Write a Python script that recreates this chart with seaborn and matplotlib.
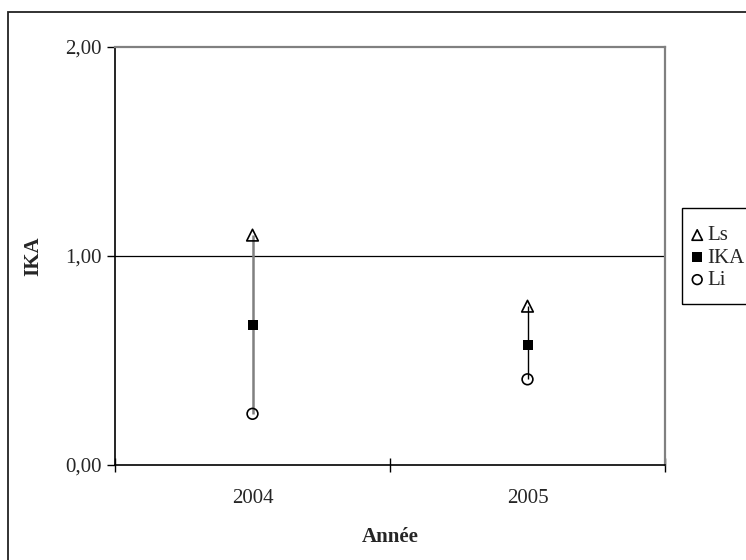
import numpy as np
import pandas as pd
import seaborn as sns
import matplotlib.pyplot as plt
from matplotlib.patches import Rectangle
from matplotlib.ticker import FuncFormatter, FixedLocator

# valeurs
annees = ["2004", "2005"]
ls = [1.10, 0.76]
ika = [0.67, 0.575]
li = [0.245, 0.41]
couleurs_barres = ["#808080", "black"]

df = pd.DataFrame({"annee": annees, "Ls": ls, "IKA": ika, "Li": li})
df["pos"] = np.arange(len(df))

sns.set_theme(style="white")
plt.rcParams["font.family"] = ["Liberation Serif", "DejaVu Serif"]
fs = 15

fig = plt.figure(figsize=(7.46, 5.60), dpi=100)
ax = fig.add_axes([115 / 746, 1 - 465 / 560, 550 / 746, 418 / 560])

# cadre extérieur (seuls les bords haut et gauche sont visibles)
fig.patches.append(Rectangle((8 / 746, -0.2), 1.2, 1.2 - 12 / 560,
                             transform=fig.transFigure, fill=False,
                             edgecolor="#222222", lw=1.3, zorder=0))
# cadre de la légende (coupé à droite)
fig.patches.append(Rectangle((682 / 746, 1 - 304 / 560), 0.2, 96 / 560,
                             transform=fig.transFigure, fill=False,
                             edgecolor="black", lw=1.0, zorder=0))

ax.axhline(1, color="black", lw=0.9, zorder=1)
ax.vlines(df["pos"], df["Li"], df["Ls"], colors=couleurs_barres,
          lw=[1.8, 1.0], zorder=2)

sns.scatterplot(data=df, x="pos", y="Ls", marker="^", s=70, color="black",
                linewidth=1.2, label="Ls", ax=ax, zorder=3)
ax.collections[-1].set_facecolor("none")
ax.collections[-1].set_edgecolor("black")
sns.scatterplot(data=df, x="pos", y="IKA", marker="s", s=60, color="black",
                linewidth=0, label="IKA", ax=ax, zorder=3)
sns.scatterplot(data=df, x="pos", y="Li", marker="o", s=60, color="black",
                linewidth=1.2, label="Li", ax=ax, zorder=3)
ax.collections[-1].set_facecolor("none")
ax.collections[-1].set_edgecolor("black")

ax.set_xlim(-0.5, len(annees) - 0.5)
ax.set_ylim(0, 2)
ax.set_yticks([0, 1, 2])
ax.yaxis.set_major_formatter(FuncFormatter(lambda v, p: f"{v:.2f}".replace(".", ",")))
ax.tick_params(axis="y", direction="out", length=5.5, width=1, color="black",
               labelsize=fs, pad=4, left=True)

ax.xaxis.set_major_locator(FixedLocator(np.arange(len(annees) + 1) - 0.5))
ax.xaxis.set_minor_locator(FixedLocator(df["pos"]))
ax.set_xticklabels([], minor=False)
ax.set_xticklabels(annees, minor=True)
ax.tick_params(axis="x", which="major", direction="inout", length=10,
               width=1, color="black", bottom=True)
ax.tick_params(axis="x", which="minor", length=0, labelsize=fs, pad=17)

ax.set_xlabel("Année", fontsize=fs, fontweight="bold", labelpad=14)
ax.set_ylabel("IKA", fontsize=fs, fontweight="bold", labelpad=16)

for s in ["left", "bottom"]:
    ax.spines[s].set_color("black")
    ax.spines[s].set_linewidth(1.2)
for s in ["top", "right"]:
    ax.spines[s].set_color("#808080")
    ax.spines[s].set_linewidth(1.6)

ax.get_legend().remove()
h, l = ax.get_legend_handles_labels()
leg = fig.legend(h, l, loc="center left", bbox_to_anchor=(692 / 746, 1 - 258 / 560),
                 fontsize=fs, frameon=False,
                 handlelength=0.5, handletextpad=0.22, labelspacing=0.13,
                 borderpad=0, borderaxespad=0, markerscale=0.9)

fig.savefig("out.png", dpi=100)
